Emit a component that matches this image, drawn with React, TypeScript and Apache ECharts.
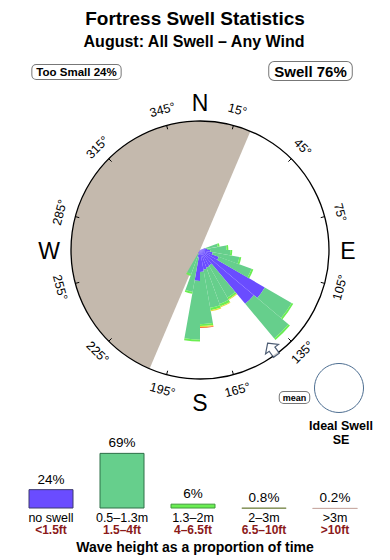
import React, { useEffect, useRef } from "react";
import * as echarts from "echarts";

// ---------- data ----------
const TITLE = "Fortress Swell Statistics";
const SUBTITLE = "August: All Swell – Any Wind";
const TOO_SMALL_PCT = 24;
const SWELL_PCT = 76;

// swell rose: 10° direction bins (start bearing), stacked by wave height
const BIN_STARTS = [70, 80, 90, 100, 110, 120, 130, 140, 150, 160, 170, 180, 190, 200];
const ROSE_NO_SWELL = [0.9, 1.2, 1.6, 2.0, 3.1, 11.6, 10.9, 2.8, 2.9, 3.1, 3.4, 4.8, 1.2, 0.6];
const ROSE_SMALL = [1.9, 2.9, 3.1, 4.2, 5.4, 4.8, 7.0, 5.7, 6.0, 6.0, 8.1, 9.1, 5.4, 3.4];
const ROSE_MEDIUM = [0.3, 0.3, 0.3, 0.3, 0.3, 0.3, 0.3, 0.3, 0.4, 0.4, 0.3, 0.3, 0.3, 0.3];
const ROSE_LARGE = [0, 0, 0, 0, 0, 0, 0, 0.15, 0.15, 0.15, 0.15, 0, 0, 0];
const ROSE_HUGE = [0, 0, 0, 0, 0, 0, 0, 0, 0, 0, 0.15, 0, 0, 0];
const ROSE_MAX = 20;

// directions sheltered from swell (bearing from, span clockwise)
const SHELTER_FROM = 203;
const SHELTER_SPAN = 180;
const MEAN_DIRECTION = 144;
const MEAN_RADIUS = 19;
const IDEAL_SWELL = "SE";

const TICK_ANGLES = [15, 45, 75, 105, 135, 165, 195, 225, 255, 285, 315, 345];
const CARDINALS = ["N", "E", "S", "W"];

const HEIGHT_LABELS = ["no swell", "0.5–1.3m", "1.3–2m", "2–3m", ">3m"];
const FEET_LABELS = ["<1.5ft", "1.5–4ft", "4–6.5ft", "6.5–10ft", ">10ft"];
const HEIGHT_PCT = [24, 69, 6, 0.8, 0.2];

// ---------- styling ----------
const FONT = "'Liberation Sans', Arial, Helvetica, sans-serif";
const CX = 200;
const CY = 250;
const R = 129;
const CARDINAL_POS: [number, number][] = [[200, 102.5], [348, 251], [200, 402.5], [49, 251]];
const FILLS = ["#6a4cff", "#66cf8c", "#6aee52", "#e6dc3c", "#f0703a"];
const BORDERS = ["#3c3a6e", "#2f7048", "#3f9a3a", "#7d8c50", "#c9aba3"];
const SERIES_NAMES = ["no swell", "0.5–1.3m", "1.3–2m", "2–3m", ">3m"];

function toBins(vals: number[]) {
  const arr = new Array(36).fill(0);
  BIN_STARTS.forEach((b, i) => {
    arr[b / 10] = vals[i];
  });
  return arr;
}

export default function App() {
  const ref = useRef<HTMLDivElement>(null);
  useEffect(() => {
    if (!ref.current) return;
    const chart = echarts.init(ref.current, undefined, { renderer: "svg" });
    const roseSets = [ROSE_NO_SWELL, ROSE_SMALL, ROSE_MEDIUM, ROSE_LARGE, ROSE_HUGE];
    const cats = Array.from({ length: 36 }, (_, i) => String(i * 10));

    const graphics: any[] = [];
    graphics.push({
      type: "text", x: 195, y: 18,
      style: { text: TITLE, font: `bold 19px ${FONT}`, fill: "#000", align: "center", verticalAlign: "middle" },
    });
    graphics.push({
      type: "text", x: 194, y: 41,
      style: { text: SUBTITLE, font: `bold 16px ${FONT}`, fill: "#000", align: "center", verticalAlign: "middle" },
    });
    graphics.push({
      type: "text", x: 76.5, y: 72,
      style: {
        text: `Too Small ${TOO_SMALL_PCT}%`, font: `bold 11.5px ${FONT}`, fill: "#000",
        align: "center", verticalAlign: "middle",
        backgroundColor: "#fff", borderColor: "#777", borderWidth: 1, borderRadius: 4, padding: [1, 4, 1, 4],
      },
    });
    graphics.push({
      type: "text", x: 310.5, y: 71,
      style: {
        text: `Swell ${SWELL_PCT}%`, font: `bold 15px ${FONT}`, fill: "#000",
        align: "center", verticalAlign: "middle",
        backgroundColor: "#fff", borderColor: "#777", borderWidth: 1, borderRadius: 5, padding: [2, 5, 1, 5],
      },
    });
    CARDINALS.forEach((t, i) => {
      graphics.push({
        type: "text", x: CARDINAL_POS[i][0], y: CARDINAL_POS[i][1],
        style: { text: t, font: `23px ${FONT}`, fill: "#000", align: "center", verticalAlign: "middle" },
      });
    });
    TICK_ANGLES.forEach((t) => {
      const rr = R + 16;
      const a = (t * Math.PI) / 180;
      let cw = t <= 90 || t >= 270 ? t : t - 180;
      if (cw > 180) cw -= 360;
      graphics.push({
        type: "text", x: CX + rr * Math.sin(a), y: CY - rr * Math.cos(a),
        rotation: (-cw * Math.PI) / 180,
        style: { text: `${t}°`, font: `12.5px ${FONT}`, fill: "#000", align: "center", verticalAlign: "middle" },
      });
    });
    graphics.push({
      type: "circle", shape: { cx: 339, cy: 388, r: 24.5 },
      style: { fill: "none", stroke: "#4d6e91", lineWidth: 1 },
    });
    graphics.push({
      type: "text", x: 294.5, y: 397.5,
      style: {
        text: "mean", font: `bold 9px ${FONT}`, fill: "#000", align: "center", verticalAlign: "middle",
        backgroundColor: "#fff", borderColor: "#777", borderWidth: 1, borderRadius: 4, padding: [1, 3, 1, 3],
      },
    });
    graphics.push({
      type: "text", x: 341, y: 426,
      style: { text: "Ideal Swell", font: `bold 12.5px ${FONT}`, fill: "#000", align: "center", verticalAlign: "middle" },
    });
    graphics.push({
      type: "text", x: 341, y: 440,
      style: { text: IDEAL_SWELL, font: `bold 12.5px ${FONT}`, fill: "#000", align: "center", verticalAlign: "middle" },
    });
    graphics.push({
      type: "text", x: 195, y: 547,
      style: { text: "Wave height as a proportion of time", font: `bold 14px ${FONT}`, fill: "#000", align: "center", verticalAlign: "middle" },
    });

    const option: any = {
      animation: false,
      textStyle: { fontFamily: FONT },
      polar: [
        { center: [CX, CY], radius: [0, R] },
        { center: [CX, CY], radius: [0, R] },
      ],
      angleAxis: [
        {
          polarIndex: 0, type: "category", data: cats, startAngle: 90, clockwise: true,
          axisLine: { show: false }, axisTick: { show: false }, axisLabel: { show: false }, splitLine: { show: false },
          z: 2,
        },
        {
          polarIndex: 1, type: "value", min: -15, max: 345, interval: 30, startAngle: 105, clockwise: true,
          axisLine: { show: true, lineStyle: { color: "#000", width: 1.3 } },
          axisTick: { show: true, inside: true, length: 4, lineStyle: { color: "#000", width: 1 } },
          axisLabel: { show: false }, splitLine: { show: false },
          z: 6,
        },
      ],
      radiusAxis: [
        { polarIndex: 0, type: "value", min: 0, max: ROSE_MAX, show: false, axisLine: { show: false }, axisTick: { show: false }, axisLabel: { show: false }, splitLine: { show: false } },
        { polarIndex: 1, type: "value", min: 0, max: ROSE_MAX, show: false, axisLine: { show: false }, axisTick: { show: false }, axisLabel: { show: false }, splitLine: { show: false } },
      ],
      grid: { left: 15.5, right: 19.5, top: 444, height: 64.5 },
      xAxis: {
        type: "category", data: HEIGHT_LABELS,
        axisLine: { show: false }, axisTick: { show: false },
        axisLabel: {
          margin: 3, interval: 0,
          formatter: (v: string, i: number) => `{a|${v}}\n{b|${FEET_LABELS[i]}}`,
          rich: {
            a: { fontSize: 12.5, color: "#000", lineHeight: 12.5, fontFamily: FONT },
            b: { fontSize: 12, fontWeight: "bold", color: "#8b1a1a", lineHeight: 12.5, fontFamily: FONT },
          },
        },
      },
      yAxis: { type: "value", min: 0, max: 80, show: false, splitLine: { show: false } },
      graphic: graphics,
      series: [
        {
          type: "pie", name: "Sheltered", center: [CX, CY], radius: [0, R],
          startAngle: 90 - SHELTER_FROM + 360, clockwise: true, silent: true, z: 1,
          label: { show: false }, labelLine: { show: false },
          data: [
            { value: SHELTER_SPAN, name: "sheltered", itemStyle: { color: "#c4b9ad" } },
            { value: 360 - SHELTER_SPAN, name: "open", itemStyle: { color: "rgba(0,0,0,0)" } },
          ],
        },
        ...roseSets.map((vals, k) => ({
          type: "bar", name: SERIES_NAMES[k], coordinateSystem: "polar", polarIndex: 0,
          stack: "rose", data: toBins(vals), barCategoryGap: "0%", z: 2,
          itemStyle: { color: FILLS[k] },
        })),
        {
          type: "scatter", coordinateSystem: "polar", polarIndex: 1, z: 7,
          data: [[MEAN_RADIUS, MEAN_DIRECTION]],
          symbol: "path://M0,0 L9,8 L4,8 L4,16 L-4,16 L-4,8 L-9,8 Z",
          symbolSize: [16, 15], symbolRotate: 360 - MEAN_DIRECTION + 180,
          itemStyle: { color: "#fff", borderColor: "#1f3350", borderWidth: 1.2 },
        },
        {
          type: "bar", name: "height", xAxisIndex: 0, yAxisIndex: 0, barWidth: 45,
          data: HEIGHT_PCT.map((v, i) => ({ value: v, itemStyle: { color: FILLS[i], borderColor: BORDERS[i], borderWidth: 1 } })),
          label: { show: true, position: "top", distance: 3, formatter: "{c}%", fontSize: 13.5, color: "#000", fontFamily: FONT },
        },
      ],
    };
    chart.setOption(option);
    return () => chart.dispose();
  }, []);
  return <div ref={ref} style={{ position: "absolute", left: 0, top: 0, width: 390, height: 560 }} />;
}
